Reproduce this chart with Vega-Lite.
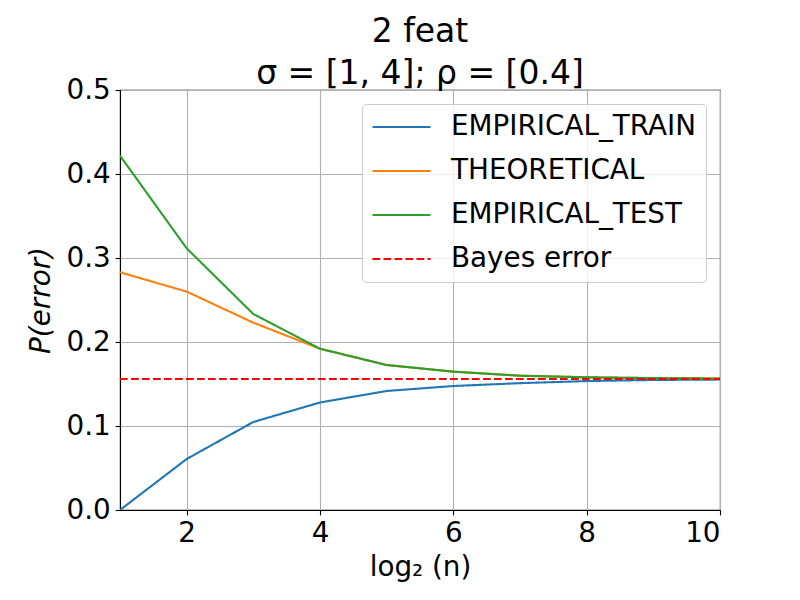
{
  "$schema": "https://vega.github.io/schema/vega-lite/v6.json",
  "width": 600,
  "height": 420,
  "autosize": "none",
  "padding": {"left": 120, "top": 90, "right": 80, "bottom": 90},
  "background": "white",
  "title": {
    "text": ["2 feat", "σ = [1, 4];  ρ = [0.4]"],
    "font": "DejaVu Sans",
    "fontSize": 33,
    "fontWeight": "normal",
    "color": "black",
    "anchor": "middle",
    "lineHeight": 42,
    "offset": -15
  },
  "config": {
    "font": "DejaVu Sans",
    "view": {"stroke": "black", "strokeWidth": 1.1},
    "axis": {
      "labelFont": "DejaVu Sans",
      "labelFontSize": 27.8,
      "labelColor": "black",
      "titleFont": "DejaVu Sans",
      "titleFontSize": 27.8,
      "titleFontWeight": "normal",
      "titleColor": "black",
      "domainColor": "black",
      "domainWidth": 1.1,
      "tickColor": "black",
      "tickWidth": 1.1,
      "tickSize": 4.9,
      "labelPadding": 4.9,
      "gridColor": "#b0b0b0",
      "gridWidth": 1.1,
      "gridOpacity": 1
    },
    "legend": {
      "orient": "top-right",
      "offset": 14,
      "padding": 9,
      "fillColor": "rgba(255,255,255,0.8)",
      "strokeColor": "#cccccc",
      "cornerRadius": 4,
      "symbolType": "M-1,0H3.64",
      "symbolSize": 625,
      "symbolStrokeWidth": 2.1,
      "labelFont": "DejaVu Sans",
      "labelFontSize": 27.8,
      "labelColor": "black",
      "labelOffset": 52,
      "rowPadding": 16,
      "labelLimit": 400
    }
  },
  "data": {
    "values": [
      {"n": 1, "err": 0.0, "series": "EMPIRICAL_TRAIN"},
      {"n": 2, "err": 0.0607, "series": "EMPIRICAL_TRAIN"},
      {"n": 3, "err": 0.1048, "series": "EMPIRICAL_TRAIN"},
      {"n": 4, "err": 0.128, "series": "EMPIRICAL_TRAIN"},
      {"n": 5, "err": 0.1417, "series": "EMPIRICAL_TRAIN"},
      {"n": 6, "err": 0.1476, "series": "EMPIRICAL_TRAIN"},
      {"n": 7, "err": 0.151, "series": "EMPIRICAL_TRAIN"},
      {"n": 8, "err": 0.1535, "series": "EMPIRICAL_TRAIN"},
      {"n": 9, "err": 0.1548, "series": "EMPIRICAL_TRAIN"},
      {"n": 10, "err": 0.1553, "series": "EMPIRICAL_TRAIN"},
      {"n": 1, "err": 0.283, "series": "THEORETICAL"},
      {"n": 2, "err": 0.26, "series": "THEORETICAL"},
      {"n": 3, "err": 0.223, "series": "THEORETICAL"},
      {"n": 4, "err": 0.192, "series": "THEORETICAL"},
      {"n": 5, "err": 0.1726, "series": "THEORETICAL"},
      {"n": 6, "err": 0.1647, "series": "THEORETICAL"},
      {"n": 7, "err": 0.16, "series": "THEORETICAL"},
      {"n": 8, "err": 0.158, "series": "THEORETICAL"},
      {"n": 9, "err": 0.157, "series": "THEORETICAL"},
      {"n": 10, "err": 0.1565, "series": "THEORETICAL"},
      {"n": 1, "err": 0.4218, "series": "EMPIRICAL_TEST"},
      {"n": 2, "err": 0.3115, "series": "EMPIRICAL_TEST"},
      {"n": 3, "err": 0.2333, "series": "EMPIRICAL_TEST"},
      {"n": 4, "err": 0.192, "series": "EMPIRICAL_TEST"},
      {"n": 5, "err": 0.1726, "series": "EMPIRICAL_TEST"},
      {"n": 6, "err": 0.1647, "series": "EMPIRICAL_TEST"},
      {"n": 7, "err": 0.1598, "series": "EMPIRICAL_TEST"},
      {"n": 8, "err": 0.158, "series": "EMPIRICAL_TEST"},
      {"n": 9, "err": 0.157, "series": "EMPIRICAL_TEST"},
      {"n": 10, "err": 0.1565, "series": "EMPIRICAL_TEST"},
      {"n": 1, "err": 0.156, "series": "Bayes error"},
      {"n": 10, "err": 0.156, "series": "Bayes error"}
    ]
  },
  "mark": {"type": "line", "strokeWidth": 2.1, "clip": true},
  "encoding": {
    "x": {
      "field": "n",
      "type": "quantitative",
      "scale": {"domain": [1, 10], "nice": false, "zero": false},
      "axis": {"values": [2, 4, 6, 8, 10], "title": "log₂ (n)", "titlePadding": 6}
    },
    "y": {
      "field": "err",
      "type": "quantitative",
      "scale": {"domain": [0, 0.5], "nice": false},
      "axis": {"values": [0, 0.1, 0.2, 0.3, 0.4, 0.5], "format": ".1f", "title": "P(error)", "titleFontStyle": "italic", "titlePadding": 10}
    },
    "color": {
      "field": "series",
      "type": "nominal",
      "sort": ["EMPIRICAL_TRAIN", "THEORETICAL", "EMPIRICAL_TEST", "Bayes error"],
      "scale": {
        "domain": ["EMPIRICAL_TRAIN", "THEORETICAL", "EMPIRICAL_TEST", "Bayes error"],
        "range": ["#1f77b4", "#ff7f0e", "#2ca02c", "#ff0000"]
      },
      "legend": {"title": null}
    },
    "strokeDash": {
      "field": "series",
      "type": "nominal",
      "sort": ["EMPIRICAL_TRAIN", "THEORETICAL", "EMPIRICAL_TEST", "Bayes error"],
      "scale": {
        "domain": ["EMPIRICAL_TRAIN", "THEORETICAL", "EMPIRICAL_TEST", "Bayes error"],
        "range": [[1, 0], [1, 0], [1, 0], [7.7, 3.3]]
      },
      "legend": {"title": null}
    }
  }
}
